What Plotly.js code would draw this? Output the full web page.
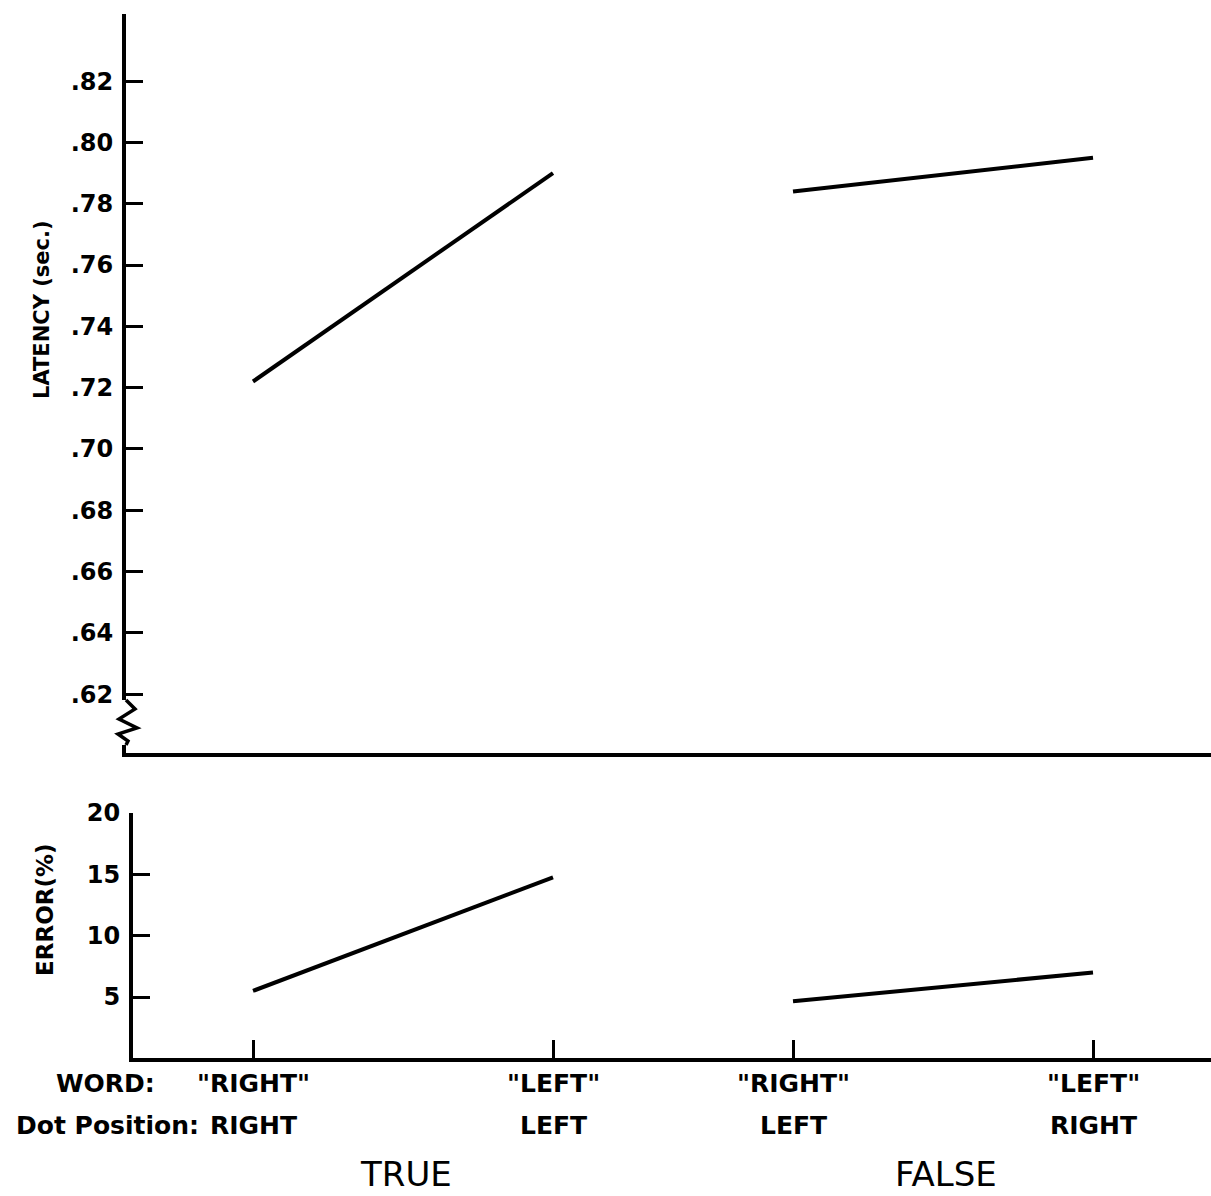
<!DOCTYPE html>
<html>
<head>
<meta charset="utf-8">
<script src="https://cdn.plot.ly/plotly-3.0.1.min.js"></script>
<style>html,body{margin:0;padding:0;background:#fff;}#chart{width:1211px;height:1196px;}</style>
</head>
<body>
<div id="chart"></div>
<script>
// ---- data ----
var conditionPos = [1, 2, 2.8, 3.8];           // horizontal placement of the four conditions
var wordLabels = ['"RIGHT"', '"LEFT"', '"RIGHT"', '"LEFT"'];
var dotLabels = ['RIGHT', 'LEFT', 'LEFT', 'RIGHT'];
var groupLabels = ['TRUE', 'FALSE'];
var latencyTrue = [0.722, 0.790];
var latencyFalse = [0.784, 0.795];
var errorTrue = [5.5, 14.75];
var errorFalse = [4.65, 7.0];
var latencyTicks = [0.62, 0.64, 0.66, 0.68, 0.70, 0.72, 0.74, 0.76, 0.78, 0.80, 0.82];
var latencyTickText = ['.62', '.64', '.66', '.68', '.70', '.72', '.74', '.76', '.78', '.80', '.82'];
var errorTicks = [5, 10, 15, 20];

// ---- geometry helpers (paper fractions) ----
var W = 1211, H = 1196;
function px(x) { return x / W; }
function py(y) { return 1 - y / H; }

var lineStyle = {color: '#000', width: 4};
var traces = [
  {x: conditionPos.slice(0, 2), y: latencyTrue, xaxis: 'x', yaxis: 'y', mode: 'lines', line: lineStyle, hoverinfo: 'skip'},
  {x: conditionPos.slice(2, 4), y: latencyFalse, xaxis: 'x', yaxis: 'y', mode: 'lines', line: lineStyle, hoverinfo: 'skip'},
  {x: conditionPos.slice(0, 2), y: errorTrue, xaxis: 'x2', yaxis: 'y2', mode: 'lines', line: lineStyle, hoverinfo: 'skip'},
  {x: conditionPos.slice(2, 4), y: errorFalse, xaxis: 'x2', yaxis: 'y2', mode: 'lines', line: lineStyle, hoverinfo: 'skip'}
];

var tickFont = {family: 'DejaVu Sans', size: 24, color: '#000', weight: 'bold'};
var labelFont = {family: 'DejaVu Sans', size: 25, color: '#000', weight: 'bold'};
var groupFont = {family: 'DejaVu Sans', size: 34, color: '#000'};

var annotations = [];
for (var i = 0; i < conditionPos.length; i++) {
  annotations.push({x: conditionPos[i], xref: 'x2', y: py(1083), yref: 'paper', text: wordLabels[i],
    showarrow: false, font: labelFont, xanchor: 'center', yanchor: 'middle'});
  annotations.push({x: conditionPos[i], xref: 'x2', y: py(1125), yref: 'paper', text: dotLabels[i],
    showarrow: false, font: labelFont, xanchor: 'center', yanchor: 'middle'});
}
annotations.push({x: px(157), xref: 'paper', y: py(1083), yref: 'paper', text: 'WORD:', showarrow: false,
  font: labelFont, xanchor: 'right', yanchor: 'middle'});
annotations.push({x: px(201), xref: 'paper', y: py(1125), yref: 'paper', text: 'Dot Position:', showarrow: false,
  font: labelFont, xanchor: 'right', yanchor: 'middle'});
annotations.push({x: (conditionPos[0] + conditionPos[1]) / 2 + 0.01, xref: 'x2', y: py(1174), yref: 'paper', text: groupLabels[0],
  showarrow: false, font: groupFont, xanchor: 'center', yanchor: 'middle'});
annotations.push({x: (conditionPos[2] + conditionPos[3]) / 2 + 0.01, xref: 'x2', y: py(1174), yref: 'paper', text: groupLabels[1],
  showarrow: false, font: groupFont, xanchor: 'center', yanchor: 'middle'});
annotations.push({x: px(42), xref: 'paper', y: py(309), yref: 'paper', text: 'LATENCY (sec.)', textangle: -90,
  showarrow: false, font: {family: 'DejaVu Sans', size: 21, color: '#000', weight: 'bold'}, xanchor: 'center', yanchor: 'middle'});
annotations.push({x: px(45), xref: 'paper', y: py(910), yref: 'paper', text: 'ERROR(%)', textangle: -90,
  showarrow: false, font: {family: 'DejaVu Sans', size: 23, color: '#000', weight: 'bold'}, xanchor: 'center', yanchor: 'middle'});

// axis break zigzag on latency axis
var zig = [[126, 700], [135, 709], [119, 719], [137, 728], [118, 734], [128, 741], [126, 745]];
var path = 'M ' + zig.map(function (p) { return px(p[0]) + ' ' + py(p[1]); }).join(' L ');

var layout = {
  width: W, height: H,
  margin: {l: 0, r: 0, t: 0, b: 0},
  paper_bgcolor: '#fff', plot_bgcolor: 'rgba(0,0,0,0)',
  showlegend: false,
  xaxis: {domain: [px(126), 1], range: [0.5767, 4.1933], anchor: 'y', showline: true, linecolor: '#000', linewidth: 4,
    showgrid: false, zeroline: false, ticks: '', showticklabels: false, fixedrange: true},
  yaxis: {domain: [py(753), py(14)], range: [0.6008, 0.8419], anchor: 'x', showline: true, linecolor: '#000', linewidth: 4,
    showgrid: false, zeroline: false, ticks: 'inside', ticklen: 17, tickwidth: 3, tickcolor: '#000',
    tickvals: latencyTicks, ticktext: latencyTickText, tickfont: tickFont, ticklabelstandoff: 4},
  xaxis2: {domain: [px(133), 1], range: [0.6, 4.1933], anchor: 'y2', showline: true, linecolor: '#000', linewidth: 4,
    showgrid: false, zeroline: false, ticks: 'inside', ticklen: 18, tickwidth: 3, tickcolor: '#000',
    tickvals: conditionPos, showticklabels: false},
  yaxis2: {domain: [py(1058), py(813)], range: [0.027, 20], anchor: 'x2', showline: true, linecolor: '#000', linewidth: 4,
    showgrid: false, zeroline: false, ticks: 'inside', ticklen: 17, tickwidth: 3, tickcolor: '#000',
    tickvals: errorTicks, tickfont: tickFont, ticklabelstandoff: 4},
  annotations: annotations,
  shapes: [
    {type: 'rect', xref: 'paper', yref: 'paper', x0: px(121), x1: px(131), y0: py(745), y1: py(700), fillcolor: '#fff', line: {width: 0}},
    {type: 'path', xref: 'paper', yref: 'paper', path: path, line: {color: '#000', width: 3.5}}
  ]
};

Plotly.newPlot('chart', traces, layout, {displayModeBar: false, staticPlot: true});
</script>
</body>
</html>
